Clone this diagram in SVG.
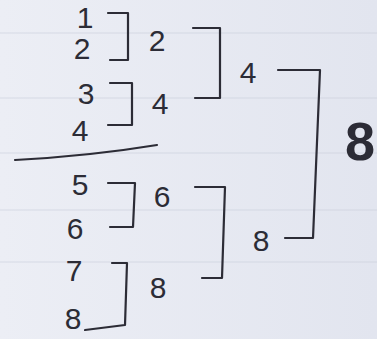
<svg xmlns="http://www.w3.org/2000/svg" width="377" height="339" viewBox="0 0 377 339">
<defs>
<linearGradient id="bg" x1="0" y1="0" x2="1" y2="0">
<stop offset="0" stop-color="#eceef5"/>
<stop offset="1" stop-color="#e2e5ef"/>
</linearGradient>
</defs>
<style>
.t{font-family:"Liberation Sans",Arial,sans-serif;font-size:30px;fill:#2c2c36;text-anchor:middle}
.big{font-size:54px;font-weight:bold}
.c{fill:none;stroke:#2c2c36;stroke-width:2.2;stroke-linecap:round;stroke-linejoin:round}
.rule{stroke:#c9cedb;stroke-width:1}
</style>
<rect width="377" height="339" fill="url(#bg)"/>
<g opacity="0.6">
<line class="rule" x1="0" y1="33" x2="377" y2="33"/>
<line class="rule" x1="0" y1="98" x2="377" y2="98"/>
<line class="rule" x1="0" y1="153" x2="377" y2="153"/>
<line class="rule" x1="0" y1="210" x2="377" y2="210"/>
<line class="rule" x1="0" y1="262" x2="377" y2="262"/>
</g>
<g id="connectors">
<path class="c" d="M108 13 H128 V60 H110"/>
<path class="c" d="M110 83 H132 V125 H108"/>
<path class="c" d="M15 160 Q90 156 157 145"/>
<path class="c" d="M193 28 H220 V98 H195"/>
<path class="c" d="M278 70 H320 L313 238 H285"/>
<path class="c" d="M108 183 H135 L133 227 H110"/>
<path class="c" d="M195 187 H225 L222 278 H202"/>
<path class="c" d="M112 263 H127 L125 325 L85 330"/>
</g>
<g id="n1"><text class="t" x="85" y="28">1</text></g>
<g id="n2"><text class="t" x="82" y="59">2</text></g>
<g id="n3"><text class="t" x="86" y="104">3</text></g>
<g id="n4"><text class="t" x="80" y="141">4</text></g>
<g id="n5"><text class="t" x="80" y="195">5</text></g>
<g id="n6"><text class="t" x="75" y="239">6</text></g>
<g id="n7"><text class="t" x="74" y="281">7</text></g>
<g id="n8"><text class="t" x="73" y="329">8</text></g>
<g id="w12"><text class="t" x="157" y="51">2</text></g>
<g id="w34"><text class="t" x="160" y="114">4</text></g>
<g id="w56"><text class="t" x="162" y="207">6</text></g>
<g id="w78"><text class="t" x="158" y="298">8</text></g>
<g id="s1"><text class="t" x="248" y="83">4</text></g>
<g id="s2"><text class="t" x="261" y="251">8</text></g>
<g id="final"><text class="t big" x="360" y="160">8</text></g>
</svg>
